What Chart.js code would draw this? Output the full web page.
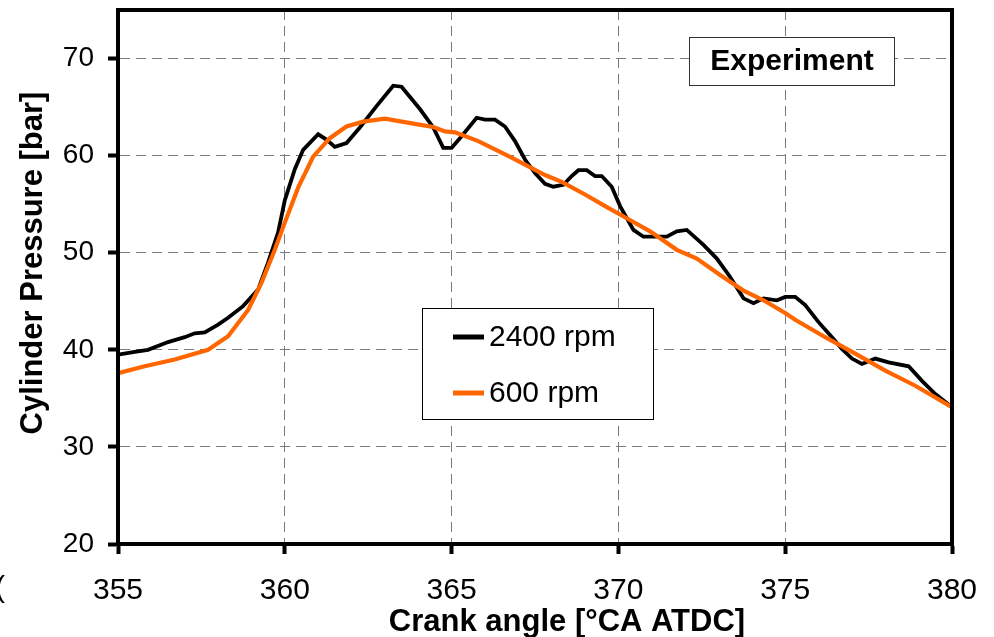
<!DOCTYPE html>
<html>
<head>
<meta charset="utf-8">
<script src="https://cdn.jsdelivr.net/npm/chart.js@4"></script>
<style>
  html, body { margin: 0; padding: 0; background: #fff; }
  #wrap { width: 994px; height: 637px; }
</style>
</head>
<body>
<div id="wrap"><canvas id="pressureChart" width="994" height="637"></canvas></div>
<script>
// 2400 rpm trace
const angle2400 = [355, 355.5, 355.9, 356.5, 357, 357.3, 357.6, 358, 358.3, 358.75, 359.2, 359.5, 359.8, 360, 360.3, 360.55,
    361, 361.25, 361.5, 361.85, 362.25, 362.75, 363.25, 363.5, 364.05, 364.45, 364.75, 365, 365.3, 365.75, 366, 366.3,
    366.6, 366.9, 367.2, 367.5, 367.8, 368.05, 368.35, 368.6, 368.8, 369.05, 369.3, 369.5, 369.8, 370.05, 370.45, 370.75,
    371.45, 371.75, 372.05, 372.55, 372.95, 373.35, 373.75, 374.05, 374.35, 374.75, 375, 375.3, 375.6, 376, 376.35,
    376.7, 377, 377.3, 377.7, 378.1, 378.7, 379.1, 379.5, 380];
const pressure2400 = [39.5, 39.8, 40.0, 40.8, 41.3, 41.7, 41.8, 42.6, 43.3, 44.5, 46.2, 49.0, 52.1, 55.4, 58.6, 60.6,
    62.2, 61.65, 60.9, 61.3, 62.9, 65.1, 67.2, 67.1, 64.8, 62.9, 60.8, 60.8, 62.0, 63.9, 63.7, 63.7,
    63.0, 61.5, 59.6, 58.2, 57.1, 56.8, 57.0, 57.9, 58.5, 58.5, 57.9, 57.9, 56.8, 54.8, 52.35, 51.65,
    51.65, 52.2, 52.35, 50.8, 49.4, 47.5, 45.3, 44.8, 45.3, 45.1, 45.45, 45.45, 44.6, 42.85, 41.5,
    40.1, 39.1, 38.55, 39.1, 38.7, 38.3, 36.8, 35.45, 34.1];

// 600 rpm trace
const angle600 = [355, 355.8, 356.7, 357.7, 358.3, 358.9, 359.3, 359.7, 360, 360.4, 360.85, 361.35, 361.85, 362.35, 363,
    363.85, 364.45, 364.8, 365.1, 365.8, 366.8, 367.8, 368.3, 369, 369.6, 370.25, 370.95, 371.75, 372.35, 373.05,
    373.75, 374.35, 375, 375.3, 376.2, 377.1, 378, 378.9, 380];
const pressure600 = [37.6, 38.3, 39.0, 40.0, 41.4, 44.1, 46.9, 50.3, 53.1, 56.7, 59.9, 61.8, 63.0, 63.5, 63.8,
    63.3, 62.95, 62.5, 62.4, 61.5, 59.8, 58.0, 57.3, 56.0, 54.8, 53.55, 52.2, 50.3, 49.4, 47.7,
    46.1, 45.1, 43.8, 43.1, 41.3, 39.6, 37.85, 36.3, 34.1];

const seriesLabels = ['2400 rpm', '600 rpm'];
const xTickValues = [355, 360, 365, 370, 375, 380];
const yTickValues = [20, 30, 40, 50, 60, 70];
const xTitle = 'Crank angle [°CA ATDC]';
const yTitle = 'Cylinder Pressure [bar]';
const boxLabel = 'Experiment';

const FONT = '"Liberation Sans", Arial, sans-serif';

function toPoints(xs, ys) {
    return xs.map((x, i) => ({ x: x, y: ys[i] }));
}

// frame, boxes, titles drawn on top of the plot
const decorations = {
    id: 'decorations',
    afterDatasetsDraw(chart) {
        const ctx = chart.ctx;
        const area = chart.chartArea;
        const sets = chart.data.datasets;
        ctx.save();

        // legend box
        ctx.fillStyle = '#fff';
        ctx.fillRect(422, 308, 231, 111);
        ctx.strokeStyle = '#000';
        ctx.lineWidth = 1;
        ctx.strokeRect(422.5, 308.5, 231, 111);
        const rows = [337, 393];
        ctx.font = '30px ' + FONT;
        ctx.textBaseline = 'middle';
        ctx.textAlign = 'left';
        sets.forEach((ds, i) => {
            ctx.strokeStyle = ds.borderColor;
            ctx.lineWidth = 5;
            ctx.beginPath();
            ctx.moveTo(453, rows[i]);
            ctx.lineTo(484, rows[i]);
            ctx.stroke();
            ctx.fillStyle = '#000';
            ctx.fillText(ds.label, 489, rows[i] + 1);
        });

        // "Experiment" box
        ctx.fillStyle = '#fff';
        ctx.fillRect(689, 37, 205, 48);
        ctx.strokeStyle = '#333';
        ctx.lineWidth = 1;
        ctx.strokeRect(689.5, 37.5, 205, 48);
        ctx.fillStyle = '#000';
        ctx.font = 'bold 30px ' + FONT;
        ctx.textAlign = 'center';
        ctx.fillText(boxLabel, 792, 62);

        // plot frame
        ctx.strokeStyle = '#000';
        ctx.lineWidth = 4;
        ctx.strokeRect(area.left, area.top, area.right - area.left, area.bottom - area.top);

        // axis titles
        ctx.font = 'bold 31px ' + FONT;
        ctx.fillText(xTitle, 567, 622);
        ctx.save();
        ctx.translate(33, 263);
        ctx.rotate(-Math.PI / 2);
        ctx.fillText(yTitle, 0, 0);
        ctx.restore();

        // clipped stray glyph at the left edge of the picture
        ctx.font = '30px ' + FONT;
        ctx.textAlign = 'left';
        ctx.fillText('(', -5, 589);

        ctx.restore();
    }
};

const ctx = document.getElementById('pressureChart').getContext('2d');
new Chart(ctx, {
    type: 'line',
    data: {
        datasets: [{
            label: seriesLabels[0],
            data: toPoints(angle2400, pressure2400),
            borderColor: '#000000',
            borderWidth: 3.8,
            pointRadius: 0,
            tension: 0,
            order: 1
        }, {
            label: seriesLabels[1],
            data: toPoints(angle600, pressure600),
            borderColor: '#ff6600',
            borderWidth: 4.2,
            pointRadius: 0,
            tension: 0,
            order: 0
        }]
    },
    options: {
        responsive: false,
        animation: false,
        layout: { padding: { top: 10, right: 42, left: 0, bottom: 0 } },
        plugins: {
            legend: { display: false },
            tooltip: { enabled: false }
        },
        scales: {
            x: {
                type: 'linear',
                min: 355,
                max: 380,
                afterFit: s => { s.height = 93; s.paddingLeft = 0; s.paddingRight = 0; },
                afterBuildTicks: s => { s.ticks = xTickValues.map(v => ({ value: v })); },
                ticks: {
                    font: { family: FONT, size: 30 },
                    color: '#000',
                    padding: 19,
                    maxRotation: 0
                },
                grid: {
                    color: '#7a7a7a',
                    lineWidth: 1,
                    tickColor: '#000',
                    tickWidth: 4,
                    tickLength: 10
                },
                border: { display: true, color: '#000', width: 4, dash: [10, 6] }
            },
            y: {
                min: 20,
                max: 75,
                afterFit: s => { s.width = 118; s.paddingTop = 0; s.paddingBottom = 0; },
                afterBuildTicks: s => { s.ticks = yTickValues.map(v => ({ value: v })); },
                ticks: {
                    font: { family: FONT, size: 28 },
                    color: '#000',
                    padding: 14
                },
                grid: {
                    color: '#7a7a7a',
                    lineWidth: 1,
                    tickColor: '#000',
                    tickWidth: 4,
                    tickLength: 10
                },
                border: { display: true, color: '#000', width: 4, dash: [10, 6] }
            }
        }
    },
    plugins: [decorations]
});
</script>
</body>
</html>
